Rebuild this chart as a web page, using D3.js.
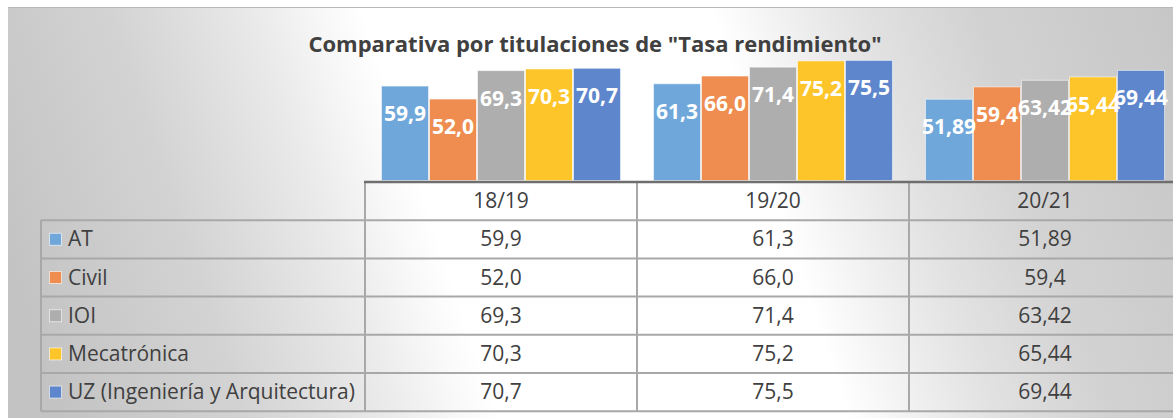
<!DOCTYPE html>
<html>
<head>
<meta charset="utf-8">
<script src="https://cdn.jsdelivr.net/npm/d3@7"></script>
<style>
  html, body { margin: 0; padding: 0; background: #ffffff; }
  svg { display: block; }
</style>
</head>
<body>
<svg id="chart" width="1173" height="418"></svg>
<script>
// Tasa de rendimiento por titulación y curso
const categories = ["18/19", "19/20", "20/21"];
const series = ["AT", "Civil", "IOI", "Mecatrónica", "UZ (Ingeniería y Arquitectura)"];
const AT = [59.9, 61.3, 51.89];
const Civil = [52.0, 66.0, 59.4];
const IOI = [69.3, 71.4, 63.42];
const Mecatronica = [70.3, 75.2, 65.44];
const UZ = [70.7, 75.5, 69.44];
// Labels as written in the data table (Spanish decimal comma)
const labelsAT = ["59,9", "61,3", "51,89"];
const labelsCivil = ["52,0", "66,0", "59,4"];
const labelsIOI = ["69,3", "71,4", "63,42"];
const labelsMecatronica = ["70,3", "75,2", "65,44"];
const labelsUZ = ["70,7", "75,5", "69,44"];
const colors = ["#6FA7DA", "#EE8D4F", "#AEAEAE", "#FDC52A", "#5E86CC"];
const title = "Comparativa por titulaciones de \"Tasa rendimiento\"";

const values = [AT, Civil, IOI, Mecatronica, UZ];
const labels = [labelsAT, labelsCivil, labelsIOI, labelsMecatronica, labelsUZ];

const svg = d3.select("#chart");
const W = 1173, H = 418;
const FONT = "'Open Sans', sans-serif";

// Background: diagonal grey-white-grey gradient
const defs = svg.append("defs");
const ux = 0.949, uy = -0.316, cx0 = 600, cy0 = 150, T = 600;
const grad = defs.append("linearGradient")
  .attr("id", "bg")
  .attr("gradientUnits", "userSpaceOnUse")
  .attr("x1", cx0 - T * ux).attr("y1", cy0 - T * uy)
  .attr("x2", cx0 + T * ux).attr("y2", cy0 + T * uy);
[[-600, "#c3c3c3"], [-420, "#d3d3d3"], [-360, "#dddddd"], [-280, "#ebebeb"],
 [-220, "#f8f8f8"], [-180, "#ffffff"], [150, "#ffffff"], [220, "#f0f0f0"],
 [290, "#e2e2e2"], [400, "#d2d2d2"], [600, "#c6c6c6"]]
  .forEach(([t, c]) => grad.append("stop").attr("offset", (t + T) / (2 * T)).attr("stop-color", c));

svg.append("rect").attr("x", 8).attr("y", 7).attr("width", W).attr("height", H)
  .attr("fill", "url(#bg)");
svg.append("line").attr("x1", 8).attr("x2", W).attr("y1", 7.5).attr("y2", 7.5)
  .attr("stroke", "#b8b8b8").attr("stroke-width", 1);

// Title
svg.append("text")
  .attr("x", 595).attr("y", 52)
  .attr("text-anchor", "middle")
  .attr("font-family", FONT)
  .attr("font-weight", "bold")
  .attr("font-size", 22)
  .attr("fill", "#404040")
  .text(title);

// Scales
const plotLeft = 365, colW = 272;
const x = d3.scaleBand().domain(categories).range([plotLeft, plotLeft + colW * categories.length]);
const xs = d3.scaleBand().domain(series).range([16, colW - 16]);
const y = d3.scaleLinear().domain([2.5, 80]).range([180.5, 53]);

// Bars
const bars = svg.append("g");
series.forEach((s, si) => {
  const g = bars.append("g");
  g.selectAll("rect").data(categories).join("rect")
    .attr("x", (c) => x(c) + xs(s) + 0.5)
    .attr("y", (c, i) => y(values[si][i]))
    .attr("width", xs.bandwidth() - 1)
    .attr("height", (c, i) => y(2.5) - y(values[si][i]))
    .attr("fill", colors[si])
    .attr("stroke", "rgba(255,255,255,0.55)")
    .attr("stroke-width", 1);
});

// Data labels inside bar ends
series.forEach((s, si) => {
  bars.append("g").selectAll("text").data(categories).join("text")
    .attr("x", (c) => x(c) + xs(s) + xs.bandwidth() / 2)
    .attr("y", (c, i) => y(values[si][i]) + 35)
    .attr("text-anchor", "middle")
    .attr("font-family", FONT)
    .attr("font-weight", "bold")
    .attr("font-size", 21)
    .attr("fill", "#ffffff")
    .text((c, i) => labels[si][i]);
});

// Data table
const axisY = 182;
const rowH = 38.2;
const tableLeft = 41;
const lineColor = "#a8a8a8";
const fs = 21;
const table = svg.append("g");

// horizontal row lines
for (let i = 1; i <= series.length + 1; i++) {
  table.append("line")
    .attr("x1", tableLeft).attr("x2", W)
    .attr("y1", axisY + rowH * i).attr("y2", axisY + rowH * i)
    .attr("stroke", lineColor).attr("stroke-width", 2);
}

// vertical lines
table.append("line")
  .attr("x1", tableLeft).attr("x2", tableLeft)
  .attr("y1", axisY + rowH).attr("y2", axisY + rowH * (series.length + 1))
  .attr("stroke", lineColor).attr("stroke-width", 2);
[plotLeft].concat(categories.map((c) => x(c) + x.bandwidth())).forEach((vx) => {
  table.append("line")
    .attr("x1", vx).attr("x2", vx)
    .attr("y1", axisY).attr("y2", axisY + rowH * (series.length + 1))
    .attr("stroke", lineColor).attr("stroke-width", 2);
});

// category axis line
svg.append("line")
  .attr("x1", plotLeft - 1).attr("x2", W)
  .attr("y1", axisY).attr("y2", axisY)
  .attr("stroke", "#6e6e6e").attr("stroke-width", 2.5);

// header row: category names
table.append("g").selectAll("text").data(categories).join("text")
  .attr("x", (c) => x(c) + x.bandwidth() / 2)
  .attr("y", axisY + rowH / 2 + 7)
  .attr("text-anchor", "middle")
  .attr("font-family", FONT)
  .attr("font-size", fs)
  .attr("fill", "#404040")
  .text((c) => c);

// series rows
series.forEach((s, si) => {
  const cy = axisY + rowH * (si + 1) + rowH / 2;
  table.append("rect")
    .attr("x", 49.5).attr("y", cy - 6).attr("width", 12).attr("height", 12)
    .attr("fill", colors[si])
    .attr("stroke", "rgba(255,255,255,0.6)")
    .attr("stroke-width", 1);
  table.append("text")
    .attr("x", 68).attr("y", cy + 7)
    .attr("font-family", FONT)
    .attr("font-size", fs)
    .attr("fill", "#404040")
    .text(s);
  table.append("g").selectAll("text").data(categories).join("text")
    .attr("x", (c) => x(c) + x.bandwidth() / 2)
    .attr("y", cy + 7)
    .attr("text-anchor", "middle")
    .attr("font-family", FONT)
    .attr("font-size", fs)
    .attr("fill", "#404040")
    .text((c, i) => labels[si][i]);
});
</script>
</body>
</html>
